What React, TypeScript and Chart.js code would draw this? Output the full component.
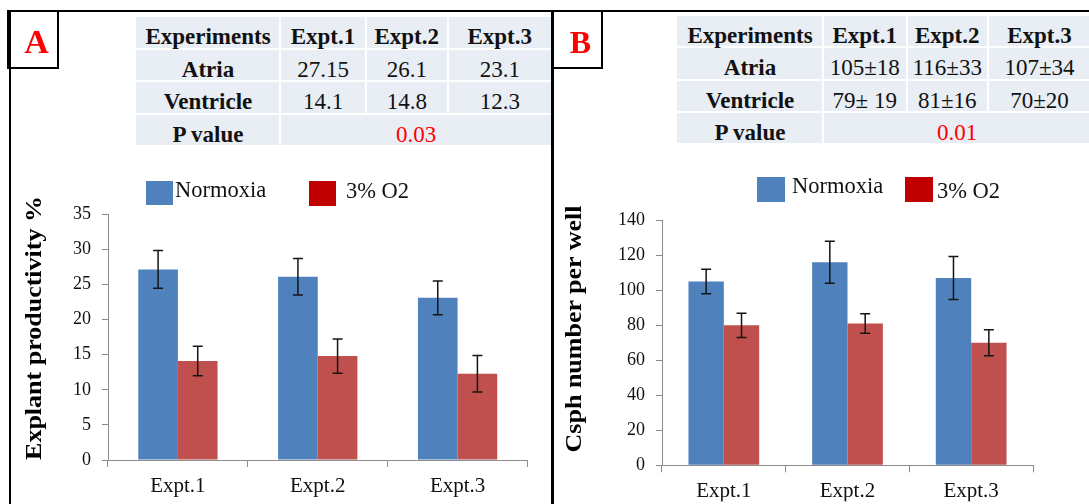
import React, { useEffect, useRef } from "react";
import { Chart, registerables } from "chart.js";

Chart.register(...registerables);

// ---------- data ----------
const experiments = ["Expt.1", "Expt.2", "Expt.3"];
const seriesNames = ["Normoxia", "3% O2"];

const explantNormoxia = [27.15, 26.1, 23.1];
const explantNormoxiaErr = [2.7, 2.6, 2.4];
const explantHypoxia = [14.1, 14.8, 12.3];
const explantHypoxiaErr = [2.1, 2.45, 2.6];

const csphNormoxia = [105, 116, 107];
const csphNormoxiaErr = [7, 12, 12.3];
const csphHypoxia = [80, 81, 70];
const csphHypoxiaErr = [6.9, 5.6, 7.4];

const explantTicks = { min: 0, max: 35, step: 5 };
const csphTicks = { min: 0, max: 140, step: 20 };

const tableHeader = ["Experiments", "Expt.1", "Expt.2", "Expt.3"];
const rowLabels = ["Atria", "Ventricle", "P value"];
const tableAAtria = ["27.15", "26.1", "23.1"];
const tableAVentricle = ["14.1", "14.8", "12.3"];
const tableAP = "0.03";
const tableBAtria = ["105±18", "116±33", "107±34"];
const tableBVentricle = ["79± 19", "81±16", "70±20"];
const tableBP = "0.01";

const titleA = "Explant productivity %";
const titleB = "Csph number per well";

// ---------- styles ----------
const SERIF = "'Liberation Serif', 'Times New Roman', Times, serif";
const BLUE = "#4F81BD";
const RED = "#C0504D";
const LEGEND_RED = "#C00000";
const AXIS = "#8C8C8C";
const CELL = "#E9EDF4";

const errorBarPlugin = {
  id: "errorBars",
  afterDatasetsDraw(chart: any) {
    const ctx = chart.ctx;
    const yScale = chart.scales.y;
    chart.data.datasets.forEach((ds: any, di: number) => {
      const meta = chart.getDatasetMeta(di);
      const errs: number[] = ds.errors || [];
      meta.data.forEach((bar: any, i: number) => {
        const v = ds.data[i];
        const e = errs[i] || 0;
        const x = bar.x;
        const yt = yScale.getPixelForValue(v + e);
        const yb = yScale.getPixelForValue(v - e);
        ctx.save();
        ctx.strokeStyle = "#151515";
        ctx.lineWidth = 1.5;
        ctx.beginPath();
        ctx.moveTo(x, yt);
        ctx.lineTo(x, yb);
        ctx.moveTo(x - 5, yt);
        ctx.lineTo(x + 5, yt);
        ctx.moveTo(x - 5, yb);
        ctx.lineTo(x + 5, yb);
        ctx.stroke();
        ctx.restore();
      });
    });
  },
};

function makeConfig(
  norm: number[],
  normErr: number[],
  hyp: number[],
  hypErr: number[],
  ticks: { min: number; max: number; step: number },
  yWidth: number,
  pad: { left: number; right: number; top: number; bottom: number },
  xHeight: number,
  catPct: number
): any {
  return {
    type: "bar",
    data: {
      labels: experiments,
      datasets: [
        {
          label: seriesNames[0],
          data: norm,
          errors: normErr,
          backgroundColor: BLUE,
          categoryPercentage: catPct,
          barPercentage: 1,
        },
        {
          label: seriesNames[1],
          data: hyp,
          errors: hypErr,
          backgroundColor: RED,
          categoryPercentage: catPct,
          barPercentage: 1,
        },
      ],
    },
    options: {
      animation: false,
      responsive: false,
      maintainAspectRatio: false,
      layout: { padding: pad },
      plugins: { legend: { display: false }, tooltip: { enabled: false } },
      scales: {
        x: {
          grid: {
            display: true,
            drawOnChartArea: false,
            drawTicks: true,
            tickLength: 7,
            color: AXIS,
            offset: true,
          },
          border: { color: AXIS, width: 1 },
          ticks: { font: { family: SERIF, size: 21 }, color: "#111", padding: 7 },
          afterFit: (s: any) => {
            s.height = xHeight;
          },
        },
        y: {
          min: ticks.min,
          max: ticks.max,
          ticks: {
            stepSize: ticks.step,
            font: { family: SERIF, size: 18 },
            color: "#111",
            padding: 11,
          },
          grid: { drawOnChartArea: false, tickLength: 6, color: AXIS },
          border: { color: AXIS, width: 1 },
          afterFit: (s: any) => {
            s.width = yWidth;
          },
        },
      },
    },
    plugins: [errorBarPlugin],
  };
}

function ChartCanvas(props: { config: any; left: number; top: number; width: number; height: number }) {
  const ref = useRef<HTMLCanvasElement>(null);
  useEffect(() => {
    const chart = new Chart(ref.current as HTMLCanvasElement, props.config);
    return () => chart.destroy();
  }, []);
  return (
    <canvas
      ref={ref}
      width={props.width}
      height={props.height}
      style={{ position: "absolute", left: props.left, top: props.top, width: props.width, height: props.height }}
    />
  );
}

// text placed by baseline
function Txt(props: {
  x: number;
  baseline: number;
  size: number;
  bold?: boolean;
  color?: string;
  align?: "left" | "center";
  children: React.ReactNode;
}) {
  const { x, baseline, size, bold, color, align = "left" } = props;
  const top = baseline - 0.8375 * size;
  const style: React.CSSProperties = {
    position: "absolute",
    top,
    fontFamily: SERIF,
    fontSize: size,
    lineHeight: `${size}px`,
    fontWeight: bold ? "bold" : "normal",
    color: color || "#111",
    whiteSpace: "nowrap",
  };
  if (align === "center") {
    style.left = x - 200;
    style.width = 400;
    style.textAlign = "center";
  } else {
    style.left = x;
  }
  return <div style={style}>{props.children}</div>;
}

function Rect(props: { l: number; t: number; w: number; h: number; c: string }) {
  return (
    <div style={{ position: "absolute", left: props.l, top: props.t, width: props.w, height: props.h, background: props.c }} />
  );
}

function DataTable(props: { cols: number[]; rows: number[]; atria: string[]; ventricle: string[]; p: string; base: number }) {
  const { cols, rows } = props;
  const out: React.ReactNode[] = [];
  const rowsText = [tableHeader.slice(1), props.atria, props.ventricle];
  for (let r = 0; r < 4; r++) {
    const t = rows[r] + 1;
    const h = rows[r + 1] - rows[r] - 2;
    const baseline = rows[r] + props.base;
    const label = r === 0 ? tableHeader[0] : rowLabels[r - 1];
    out.push(<Rect key={`c${r}0`} l={cols[0]} t={t} w={cols[1] - cols[0] - 1} h={h} c={CELL} />);
    out.push(
      <Txt key={`t${r}0`} x={(cols[0] + cols[1]) / 2} baseline={baseline} size={23} bold align="center">
        {label}
      </Txt>
    );
    if (r < 3) {
      for (let c = 1; c < 4; c++) {
        out.push(<Rect key={`c${r}${c}`} l={cols[c] + 1} t={t} w={cols[c + 1] - cols[c] - 2} h={h} c={CELL} />);
        out.push(
          <Txt key={`t${r}${c}`} x={(cols[c] + cols[c + 1]) / 2} baseline={baseline} size={23} bold={r === 0} align="center">
            {rowsText[r][c - 1]}
          </Txt>
        );
      }
    } else {
      out.push(<Rect key={`c${r}p`} l={cols[1] + 1} t={t} w={cols[4] - cols[1] - 2} h={h} c={CELL} />);
      out.push(
        <Txt key={`t${r}p`} x={(cols[1] + cols[4]) / 2} baseline={baseline} size={23} color="#FF0000" align="center">
          {props.p}
        </Txt>
      );
    }
  }
  return <>{out}</>;
}

function YTitle(props: { cx: number; cy: number; size: number; children: React.ReactNode }) {
  const { cx, cy, size } = props;
  return (
    <div
      style={{
        position: "absolute",
        left: cx - 200,
        top: cy - size / 2,
        width: 400,
        height: size,
        lineHeight: `${size}px`,
        textAlign: "center",
        fontFamily: SERIF,
        fontWeight: "bold",
        fontSize: size,
        color: "#000",
        whiteSpace: "nowrap",
        transform: "rotate(-90deg) scaleY(0.9)",
        transformOrigin: "50% 50%",
      }}
    >
      {props.children}
    </div>
  );
}

function Legend(props: { items: { box: [number, number, number, number]; color: string; textX: number; baseline: number; text: string }[] }) {
  return (
    <>
      {props.items.map((it, i) => (
        <React.Fragment key={i}>
          <Rect l={it.box[0]} t={it.box[1]} w={it.box[2]} h={it.box[3]} c={it.color} />
          <Txt x={it.textX} baseline={it.baseline} size={22.5}>
            {it.text}
          </Txt>
        </React.Fragment>
      ))}
    </>
  );
}

export default function App() {
  const configA = makeConfig(
    explantNormoxia,
    explantNormoxiaErr,
    explantHypoxia,
    explantHypoxiaErr,
    explantTicks,
    96,
    { left: 0, right: 22.5, top: 64.3, bottom: 4 },
    40,
    0.567
  );
  const configB = makeConfig(
    csphNormoxia,
    csphNormoxiaErr,
    csphHypoxia,
    csphHypoxiaErr,
    csphTicks,
    107,
    { left: 0, right: 56, top: 70.3, bottom: 2.7 },
    36,
    0.572
  );

  return (
    <div
      style={{
        position: "absolute",
        left: 0,
        top: 0,
        width: 1089,
        height: 504,
        overflow: "hidden",
        background: "#fff",
      }}
    >
      {/* tables */}
      <DataTable cols={[136, 280, 366, 447.5, 552]} rows={[16, 48.5, 81, 113.5, 146]} atria={tableAAtria} ventricle={tableAVentricle} p={tableAP} base={28.5} />
      <DataTable cols={[677, 823, 906.5, 988, 1091]} rows={[15, 47, 79.5, 112, 144]} atria={tableBAtria} ventricle={tableBVentricle} p={tableBP} base={28.5} />

      {/* charts */}
      <ChartCanvas config={configA} left={12} top={150} width={538} height={354} />
      <ChartCanvas config={configB} left={555} top={150} width={534} height={354} />

      {/* legends */}
      <Legend
        items={[
          { box: [146, 181, 27, 24], color: BLUE, textX: 175, baseline: 198.3, text: seriesNames[0] },
          { box: [309, 181, 27, 25], color: LEGEND_RED, textX: 346, baseline: 199.3, text: seriesNames[1] },
        ]}
      />
      <Legend
        items={[
          { box: [757, 177, 28, 25], color: BLUE, textX: 792, baseline: 194.3, text: seriesNames[0] },
          { box: [905, 177, 28, 25], color: LEGEND_RED, textX: 937, baseline: 199.3, text: seriesNames[1] },
        ]}
      />

      {/* axis titles */}
      <YTitle cx={34} cy={327.5} size={26}>
        {titleA}
      </YTitle>
      <YTitle cx={573.5} cy={329} size={26}>
        {titleB}
      </YTitle>

      {/* frame lines */}
      <Rect l={7} t={10} w={1082} h={2} c="#000" />
      <Rect l={7} t={10} w={4} h={59} c="#000" />
      <Rect l={9} t={10} w={2} h={494} c="#000" />
      <Rect l={57} t={10} w={2} h={59} c="#000" />
      <Rect l={7} t={67} w={52} h={2} c="#000" />
      <Rect l={551} t={10} w={3} h={494} c="#000" />
      <Rect l={601} t={10} w={2} h={59} c="#000" />
      <Rect l={551} t={67} w={52} h={2} c="#000" />

      {/* panel letters */}
      <Txt x={36.5} baseline={53} size={34} bold color="#FF0000" align="center">
        A
      </Txt>
      <Txt x={580.5} baseline={53} size={32} bold color="#FF0000" align="center">
        B
      </Txt>
    </div>
  );
}
